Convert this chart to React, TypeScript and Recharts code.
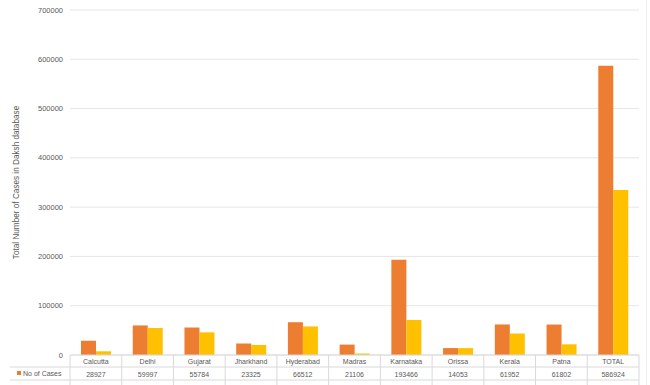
import React from 'react';
import { BarChart, Bar, XAxis, YAxis, CartesianGrid } from 'recharts';

const categories = ['Calcutta', 'Delhi', 'Gujarat', 'Jharkhand', 'Hyderabad', 'Madras', 'Karnataka', 'Orissa', 'Kerala', 'Patna', 'TOTAL'];
const noOfCases = [28927, 59997, 55784, 23325, 66512, 21106, 193466, 14053, 61952, 61802, 586924];
const secondSeries = [7500, 54700, 46000, 20300, 58000, 3000, 71000, 14000, 43500, 21700, 335000];
const yTicks = [0, 100000, 200000, 300000, 400000, 500000, 600000, 700000];
const seriesLabel = 'No of Cases';
const yAxisTitle = 'Total Number of Cases in Daksh database';

const data = categories.map((c, i) => ({ name: c, cases: noOfCases[i], second: secondSeries[i] }));

const ORANGE = '#ED7D31';
const YELLOW = '#FFC000';
const TEXT = '#595959';
const LINE = '#d9d9d9';
const FONT = '"Liberation Sans", Arial, sans-serif';
const CELL_W = 51.7;

const XTick = (props: any) => {
  const { x, y, payload, index } = props;
  const half = CELL_W / 2;
  const val = noOfCases[index];
  return (
    <g>
      <line x1={x - half} y1={y} x2={x - half} y2={y + 30} stroke={LINE} strokeWidth={1} />
      {index === categories.length - 1 && (
        <line x1={x + half} y1={y} x2={x + half} y2={y + 30} stroke={LINE} strokeWidth={1} />
      )}
      <line x1={x - half} y1={y + 12} x2={x + half} y2={y + 12} stroke={LINE} strokeWidth={1} />
      <line x1={x - half} y1={y + 25} x2={x + half} y2={y + 25} stroke={LINE} strokeWidth={1} />
      <text x={x} y={y + 9} textAnchor="middle" fontSize={7} fill={TEXT} fontFamily={FONT}>{payload.value}</text>
      <text x={x} y={y + 22} textAnchor="middle" fontSize={7} fill={TEXT} fontFamily={FONT}>{val}</text>
      {index === 0 && (
        <g>
          <line x1={10} y1={y + 12} x2={x - half} y2={y + 12} stroke={LINE} strokeWidth={1} />
          <line x1={10} y1={y + 25} x2={x - half} y2={y + 25} stroke={LINE} strokeWidth={1} />
          <rect x={17} y={y + 16} width={4} height={4} fill={ORANGE} />
          <text x={23} y={y + 21} fontSize={7} fill={TEXT} fontFamily={FONT}>{seriesLabel}</text>
        </g>
      )}
    </g>
  );
};

const YTick = (props: any) => {
  const { y, payload } = props;
  return (
    <text x={63} y={y + 2.5} textAnchor="end" fontSize={7.5} fill={TEXT} fontFamily={FONT}>{payload.value}</text>
  );
};

const YLabel = (props: any) => {
  const vb = props.viewBox || {};
  const cy = (vb.y ?? 10) + (vb.height ?? 345) / 2;
  return (
    <text x={19} y={cy} transform={`rotate(-90, 19, ${cy})`} textAnchor="middle" fontSize={8.2} fill={TEXT} fontFamily={FONT}>
      {yAxisTitle}
    </text>
  );
};

export default function App() {
  return (
    <div style={{ position: 'fixed', left: 0, top: 0, width: 650, height: 385, background: '#fff' }}>
      <div style={{ position: 'absolute', left: 646, top: 0, width: 1, height: 385, background: '#efefef' }} />
      <BarChart width={650} height={385} data={data} margin={{ top: 10, right: 11, left: 0, bottom: 0 }} barGap={0} barSize={15}>
        <CartesianGrid vertical={false} stroke="#e6e6e6" />
        <XAxis dataKey="name" height={30} tickLine={false} tickSize={0} tickMargin={0} axisLine={{ stroke: LINE }} tick={<XTick />} interval={0} />
        <YAxis width={70} domain={[0, 700000]} ticks={yTicks} tickLine={false} axisLine={false} tick={<YTick />} label={<YLabel />} />
        <Bar dataKey="cases" fill={ORANGE} isAnimationActive={false} />
        <Bar dataKey="second" fill={YELLOW} isAnimationActive={false} />
      </BarChart>
    </div>
  );
}
